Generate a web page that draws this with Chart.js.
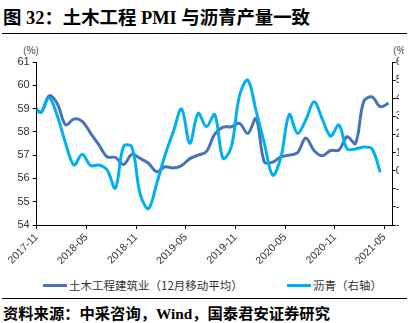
<!DOCTYPE html>
<html>
<head>
<meta charset="utf-8">
<script src="https://cdn.jsdelivr.net/npm/chart.js@4.4.1/dist/chart.umd.min.js"></script>
<style>
  body { margin: 0; width: 420px; height: 323px; background: #fff; position: relative; overflow: hidden;
         font-family: "Liberation Sans", "Noto Sans CJK SC", sans-serif; }
  #title { position: absolute; left: 3px; top: 3px; line-height: 22px; white-space: nowrap;
           font: bold 18.4px "Liberation Serif", "Noto Sans CJK SC", serif; color: #000; }
  .rule { position: absolute; left: 2px; width: 405px; height: 0; border-top: 1.5px solid #000; }
  #plot { position: absolute; left: 0; top: 44px; width: 399px; height: 230px; overflow: hidden; }
  .unit { position: absolute; top: 44px; font-size: 10px; line-height: 12px; color: #333; white-space: nowrap;
          font-family: "Noto Sans CJK SC", sans-serif; }
  #unitR { left: 393px; width: 11px; overflow: hidden; }
  .leg { position: absolute; top: 278px; height: 14px; display: flex; align-items: center; white-space: nowrap;
         font: 11.5px "Noto Sans CJK SC", sans-serif; color: #333; }
  .leg i { display: inline-block; width: 24px; height: 3px; margin-right: 2px; }
  #source { position: absolute; left: 3px; top: 301px; line-height: 18px; white-space: nowrap;
            font: bold 15.3px "Liberation Serif", "Noto Sans CJK SC", serif; color: #000; }
</style>
</head>
<body>
<div id="title">图 32：土木工程 PMI 与沥青产量一致</div>
<div class="rule" style="top:33px"></div>
<div class="unit" style="left:23px">(%)</div>
<div class="unit" id="unitR">(%)</div>
<div id="plot"><canvas id="c" width="420" height="230"></canvas></div>
<div id="legend"></div>
<div class="rule" style="top:298px"></div>
<div id="source">资料来源：中采咨询，Wind，国泰君安证券研究</div>
<script>
  const months = [
    "2017-10", "2017-11", "2017-12", "2018-01", "2018-02", "2018-03", "2018-04", "2018-05", "2018-06",
    "2018-07", "2018-08", "2018-09", "2018-10", "2018-11", "2018-12", "2019-01", "2019-02", "2019-03",
    "2019-04", "2019-05", "2019-06", "2019-07", "2019-08", "2019-09", "2019-10", "2019-11", "2019-12",
    "2020-01", "2020-02", "2020-03", "2020-04", "2020-05", "2020-06", "2020-07", "2020-08", "2020-09",
    "2020-10", "2020-11", "2020-12", "2021-01", "2021-02", "2021-03", "2021-04", "2021-05",
  ];
  const tickLabels = ["2017-11", "2018-05", "2018-11", "2019-05", "2019-11", "2020-05", "2020-11", "2021-05"];

  // 土木工程建筑业 PMI, 12-month moving average (left axis, %)
  const pmiValues = [
    59.2, 58.84, 59.55, 59.2, 58.3, 58.55, 58.45, 57.95, 57.45, 56.93, 56.9, 56.6, 57.03, 56.86, 56.65,
    56.29, 56.5, 56.45, 56.55, 56.85, 57.0, 57.15, 57.9, 58.2, 58.22, 58.36, 57.93, 58.57, 56.7, 56.7,
    56.93, 57.0, 57.1, 57.74, 57.2, 56.97, 57.2, 57.22, 57.79, 57.5, 59.3, 59.5, 59.08, 59.23,
  ];
  // 沥青 (right axis, %)
  const asphaltValues = [
    3.5, 3.22, 4.03, 3.0, 1.5, 0.31, 0.9, 0.28, 0.31, 0.04, -0.97, 1.35, 1.3, -1.3, -2.1, -0.7, 0.85,
    2.15, 3.4, 1.51, 3.17, 2.43, 3.1, 0.68, 1.3, 4.15, 5.0, 3.3, 1.5, -0.25, 0.75, 3.1, 2.06, 2.8, 3.8,
    2.85, 1.9, 2.52, 1.2, 1.2, 1.3, 1.2, -0.09,
  ];

  const seriesNames = ["土木工程建筑业（12月移动平均）", "沥青（右轴）"];
  const seriesColors = ["#4674b9", "#00b0f0"];

  // months counted from the first tick label; values sit at mid-month
  function monthPos(label) {
    const [y, m] = label.split("-").map(Number);
    const [y0, m0] = tickLabels[0].split("-").map(Number);
    return (y - y0) * 12 + (m - m0);
  }
  function toPoints(values) {
    return values.map((v, i) => ({ x: monthPos(months[i]) + 0.5, y: v }));
  }

  const legendEl = document.getElementById("legend");
  const legendLeft = [43, 287];
  seriesNames.forEach((name, i) => {
    const d = document.createElement("div");
    d.className = "leg";
    d.style.left = legendLeft[i] + "px";
    d.innerHTML = `<i style="background:${seriesColors[i]}"></i><span>${name}</span>`;
    legendEl.appendChild(d);
  });

  const tickFont = { family: "Liberation Sans", size: 11 };
  const axisGrid = { drawOnChartArea: false, color: "#000", tickLength: 4 };
  const axisBorder = { color: "#000", width: 1 };

  new Chart(document.getElementById("c").getContext("2d"), {
    type: "line",
    data: {
      datasets: [
        { label: seriesNames[0], data: toPoints(pmiValues), yAxisID: "y",
          borderColor: seriesColors[0], backgroundColor: seriesColors[0], order: 1 },
        { label: seriesNames[1], data: toPoints(asphaltValues), yAxisID: "y1",
          borderColor: seriesColors[1], backgroundColor: seriesColors[1], order: 0 },
      ],
    },
    options: {
      responsive: false,
      animation: false,
      layout: { padding: { top: 18, left: 0, right: 0, bottom: 0 } },
      plugins: { legend: { display: false }, tooltip: { enabled: false } },
      elements: {
        point: { radius: 0 },
        line: { tension: 0.35, borderWidth: 3, capBezierPoints: false, fill: false },
      },
      datasets: { line: { clip: 0 } },
      scales: {
        x: {
          type: "linear",
          min: 0,
          max: monthPos(months[months.length - 1]) + 1,
          afterBuildTicks: (s) => { s.ticks = tickLabels.map((l) => ({ value: monthPos(l) })); },
          afterFit: (s) => { s.height = 49; },
          ticks: {
            autoSkip: false, maxRotation: 45, minRotation: 45, padding: 2,
            font: { family: "Liberation Sans", size: 10.5 }, color: "#333",
            callback: (v) => tickLabels.find((l) => monthPos(l) === v) ?? "",
          },
          grid: axisGrid,
          border: axisBorder,
        },
        y: {
          position: "left", min: 54, max: 61,
          afterFit: (s) => { s.width = 36.7; },
          ticks: { stepSize: 1, padding: 3, font: tickFont, color: "#333" },
          grid: axisGrid,
          border: axisBorder,
        },
        y1: {
          position: "right", min: -3, max: 6,
          afterFit: (s) => { s.width = 27.3; },
          ticks: { stepSize: 1, padding: 0, font: tickFont, color: "#333" },
          grid: { drawOnChartArea: false, color: "#000", tickLength: 3 },
          border: axisBorder,
        },
      },
    },
  });
</script>
</body>
</html>
